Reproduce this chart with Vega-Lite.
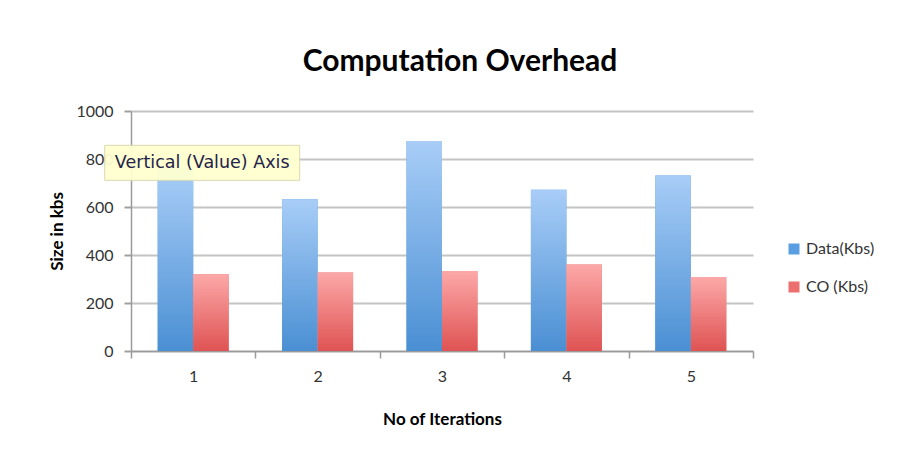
{
  "$schema": "https://vega.github.io/schema/vega-lite/v6.json",
  "width": 622,
  "height": 240,
  "autosize": {"type": "none"},
  "padding": {"left": 131, "top": 111, "right": 151, "bottom": 108},
  "background": "#ffffff",
  "title": {
    "text": "Computation Overhead",
    "font": "Lato",
    "fontSize": 30,
    "fontWeight": "bold",
    "color": "#000000",
    "anchor": "middle",
    "dx": 18,
    "offset": 26
  },
  "config": {
    "view": {"stroke": null},
    "font": "Lato"
  },
  "datasets": {
    "bars": [
      {"iteration": "1", "series": "Data(Kbs)", "value": 760},
      {"iteration": "1", "series": "CO (Kbs)", "value": 320},
      {"iteration": "2", "series": "Data(Kbs)", "value": 632},
      {"iteration": "2", "series": "CO (Kbs)", "value": 327},
      {"iteration": "3", "series": "Data(Kbs)", "value": 875},
      {"iteration": "3", "series": "CO (Kbs)", "value": 333},
      {"iteration": "4", "series": "Data(Kbs)", "value": 672},
      {"iteration": "4", "series": "CO (Kbs)", "value": 360},
      {"iteration": "5", "series": "Data(Kbs)", "value": 731},
      {"iteration": "5", "series": "CO (Kbs)", "value": 308}
    ],
    "note": [
      {"iteration": "1", "label": "Vertical (Value) Axis"}
    ]
  },
  "layer": [
    {
      "data": {"name": "bars"},
      "mark": {"type": "bar"},
      "encoding": {
        "x": {
          "field": "iteration", "type": "nominal",
          "scale": {"paddingInner": 0, "paddingOuter": 0},
          "axis": {
            "title": "No of Iterations",
            "labelAngle": 0,
            "labelFont": "Lato", "labelFontSize": 16, "labelColor": "#333333",
            "labelPadding": 10,
            "titleFont": "Lato", "titleFontSize": 17, "titleFontWeight": "bold", "titleColor": "#000000",
            "titlePadding": 27,
            "tickBand": "extent", "tickSize": 7, "tickColor": "#9a9a9a", "tickWidth": 1.5,
            "domainColor": "#9a9a9a", "domainWidth": 1.5,
            "grid": false
          }
        },
        "xOffset": {
          "field": "series", "type": "nominal",
          "sort": ["Data(Kbs)", "CO (Kbs)"],
          "scale": {"paddingInner": 0, "paddingOuter": 0.752}
        },
        "y": {
          "field": "value", "type": "quantitative",
          "scale": {"domain": [0, 1000], "nice": false},
          "axis": {
            "title": "Size in kbs",
            "values": [0, 200, 400, 600, 800, 1000],
            "format": "d",
            "labelFont": "Lato", "labelFontSize": 16, "labelColor": "#333333",
            "labelPadding": 11,
            "titleFont": "Lato", "titleFontSize": 17, "titleFontWeight": "bold", "titleColor": "#000000",
            "titlePadding": 9,
            "tickSize": 7, "tickColor": "#a0a0a0", "tickWidth": 2,
            "domainColor": "#9a9a9a", "domainWidth": 1.5,
            "grid": true, "gridColor": "#c4c4c4", "gridWidth": 2
          }
        },
        "color": {
          "field": "series", "type": "nominal",
          "sort": ["Data(Kbs)", "CO (Kbs)"],
          "scale": {"domain": ["Data(Kbs)", "CO (Kbs)"], "range": ["#5a9ee2", "#ec6f6f"]},
          "legend": {
            "title": null,
            "orient": "none",
            "legendX": 655,
            "legendY": 130,
            "symbolType": "square",
            "symbolSize": 121,
            "symbolStrokeWidth": 0,
            "labelFont": "Lato", "labelFontSize": 16, "labelColor": "#333333",
            "labelOffset": 4,
            "rowPadding": 22
          }
        }
      }
    },
    {
      "data": {"name": "bars"},
      "mark": {"type": "bar"},
      "encoding": {
        "x": {"field": "iteration", "type": "nominal"},
        "xOffset": {"field": "series", "type": "nominal", "sort": ["Data(Kbs)", "CO (Kbs)"]},
        "y": {"field": "value", "type": "quantitative"},
        "fill": {
          "condition": {
            "test": "datum.series === 'Data(Kbs)'",
            "value": {
              "gradient": "linear", "x1": 0, "y1": 0, "x2": 0, "y2": 1,
              "stops": [{"offset": 0, "color": "#a8cdf7"}, {"offset": 1, "color": "#4a8fd3"}]
            }
          },
          "value": {
            "gradient": "linear", "x1": 0, "y1": 0, "x2": 0, "y2": 1,
            "stops": [{"offset": 0, "color": "#fca8a8"}, {"offset": 1, "color": "#df5353"}]
          }
        }
      }
    },
    {
      "data": {"name": "note"},
      "mark": {"type": "bar", "width": 195, "xOffset": 9, "fill": "#ffffd0", "stroke": "#d8d8b0", "strokeWidth": 1, "opacity": 0.95},
      "encoding": {
        "x": {"field": "iteration", "type": "nominal"},
        "y": {"datum": 857},
        "y2": {"datum": 711}
      }
    },
    {
      "data": {"name": "note"},
      "mark": {"type": "text", "font": "DejaVu Sans", "fontSize": 17.5, "color": "#23234a", "align": "center", "baseline": "middle", "dx": 9},
      "encoding": {
        "x": {"field": "iteration", "type": "nominal"},
        "y": {"datum": 784},
        "text": {"field": "label"}
      }
    }
  ]
}
